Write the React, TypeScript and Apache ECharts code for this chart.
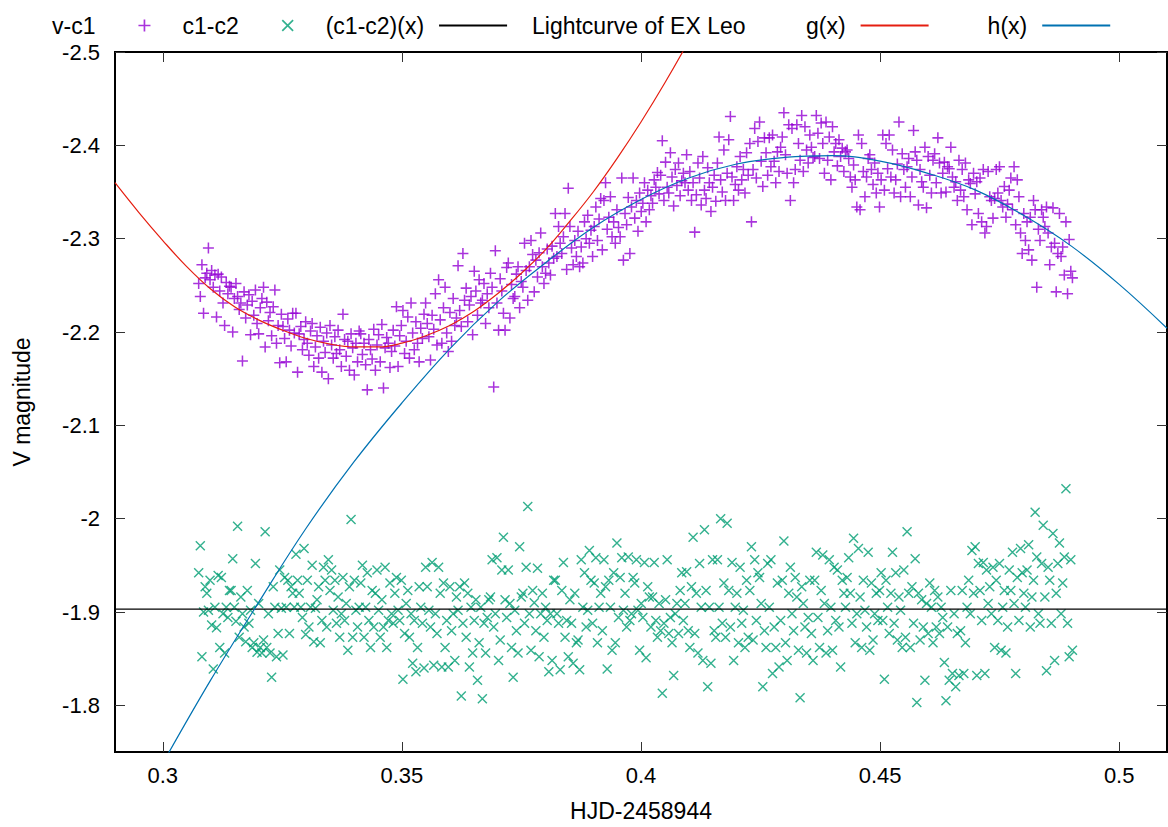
import React, { useEffect, useRef } from 'react';
import * as echarts from 'echarts';

// Observation cadence (HJD-2458944): first frame and spacing between frames
const T0 = 0.3075;
const CADENCE = 0.000339;

// v-c1 magnitudes (in time order)
const vMinusC1 = [
  -2.252, -2.238, -2.272, -2.220, -2.258, -2.263, -2.290, -2.256, -2.266, -2.248, -2.261, -2.216, -2.262, -2.244, -2.259, -2.231, -2.207, -2.253, -2.241, -2.249,
  -2.248, -2.200, -2.236, -2.252, -2.238, -2.224, -2.231, -2.169, -2.243, -2.215, -2.229, -2.240, -2.197, -2.233, -2.218, -2.245, -2.209, -2.198, -2.226, -2.236,
  -2.248, -2.184, -2.232, -2.212, -2.221, -2.196, -2.227, -2.245, -2.188, -2.207, -2.167, -2.219, -2.206, -2.193, -2.168, -2.214, -2.202, -2.185, -2.220, -2.199,
  -2.220, -2.157, -2.198, -2.206, -2.181, -2.192, -2.211, -2.188, -2.175, -2.201, -2.209, -2.163, -2.184, -2.196, -2.172, -2.205, -2.157, -2.190, -2.178, -2.199,
  -2.150, -2.207, -2.186, -2.172, -2.195, -2.177, -2.202, -2.181, -2.163, -2.219, -2.192, -2.174, -2.190, -2.159, -2.198, -2.183, -2.154, -2.188, -2.168, -2.201,
  -2.198, -2.176, -2.188, -2.165, -2.138, -2.192, -2.181, -2.171, -2.203, -2.159, -2.186, -2.197, -2.168, -2.208, -2.140, -2.183, -2.194, -2.188, -2.162, -2.179,
  -2.202, -2.185, -2.227, -2.163, -2.196, -2.207, -2.223, -2.177, -2.190, -2.216, -2.172, -2.231, -2.199, -2.181, -2.211, -2.188, -2.168, -2.204, -2.193, -2.219,
  -2.231, -2.209, -2.195, -2.170, -2.218, -2.203, -2.241, -2.186, -2.256, -2.213, -2.188, -2.226, -2.248, -2.199, -2.179, -2.221, -2.190, -2.236, -2.207, -2.215,
  -2.271, -2.223, -2.206, -2.284, -2.234, -2.247, -2.211, -2.229, -2.238, -2.197, -2.265, -2.244, -2.218, -2.256, -2.231, -2.234, -2.252, -2.209, -2.241, -2.226,
  -2.263, -2.248, -2.141, -2.287, -2.231, -2.202, -2.257, -2.244, -2.220, -2.202, -2.269, -2.274, -2.215, -2.251, -2.236, -2.238, -2.262, -2.270, -2.226, -2.254,
  -2.248, -2.295, -2.266, -2.234, -2.270, -2.298, -2.283, -2.243, -2.277, -2.259, -2.285, -2.306, -2.270, -2.252, -2.263, -2.289, -2.274, -2.261, -2.292, -2.279,
  -2.327, -2.281, -2.313, -2.295, -2.284, -2.302, -2.327, -2.267, -2.354, -2.313, -2.290, -2.272, -2.298, -2.281, -2.308, -2.270, -2.291, -2.274, -2.318, -2.300,
  -2.325, -2.295, -2.309, -2.281, -2.313, -2.334, -2.298, -2.321, -2.343, -2.288, -2.341, -2.360, -2.310, -2.323, -2.345, -2.302, -2.318, -2.295, -2.331, -2.312,
  -2.302, -2.365, -2.277, -2.327, -2.315, -2.344, -2.284, -2.334, -2.365, -2.322, -2.341, -2.308, -2.349, -2.329, -2.338, -2.360, -2.318, -2.352, -2.331, -2.346,
  -2.338, -2.363, -2.355, -2.371, -2.348, -2.368, -2.405, -2.341, -2.382, -2.355, -2.349, -2.392, -2.366, -2.335, -2.374, -2.357, -2.381, -2.346, -2.362, -2.370,
  -2.360, -2.390, -2.352, -2.372, -2.341, -2.360, -2.307, -2.347, -2.381, -2.365, -2.336, -2.388, -2.352, -2.343, -2.376, -2.360, -2.329, -2.355, -2.368, -2.340,
  -2.381, -2.409, -2.363, -2.350, -2.395, -2.341, -2.370, -2.406, -2.431, -2.366, -2.341, -2.358, -2.377, -2.352, -2.388, -2.363, -2.374, -2.349, -2.392, -2.368,
  -2.402, -2.318, -2.374, -2.418, -2.365, -2.404, -2.425, -2.383, -2.356, -2.408, -2.392, -2.368, -2.408, -2.377, -2.411, -2.383, -2.360, -2.393, -2.372, -2.398,
  -2.409, -2.435, -2.390, -2.370, -2.422, -2.341, -2.418, -2.360, -2.374, -2.422, -2.402, -2.384, -2.432, -2.372, -2.420, -2.395, -2.381, -2.411, -2.398, -2.387,
  -2.388, -2.432, -2.413, -2.386, -2.424, -2.402, -2.370, -2.425, -2.384, -2.409, -2.363, -2.420, -2.393, -2.402, -2.378, -2.406, -2.388, -2.397, -2.372, -2.393,
  -2.395, -2.386, -2.366, -2.355, -2.379, -2.363, -2.334, -2.411, -2.331, -2.402, -2.372, -2.345, -2.366, -2.386, -2.390, -2.374, -2.358, -2.381, -2.349, -2.370,
  -2.334, -2.363, -2.411, -2.352, -2.402, -2.375, -2.411, -2.366, -2.395, -2.349, -2.363, -2.380, -2.425, -2.345, -2.391, -2.374, -2.355, -2.377, -2.386, -2.345,
  -2.366, -2.416, -2.393, -2.384, -2.336, -2.374, -2.361, -2.355, -2.398, -2.333, -2.388, -2.368, -2.349, -2.384, -2.391, -2.360, -2.408, -2.381, -2.349, -2.370,
  -2.382, -2.350, -2.377, -2.375, -2.398, -2.366, -2.355, -2.361, -2.341, -2.384, -2.352, -2.374, -2.345, -2.381, -2.331, -2.363, -2.359, -2.315, -2.370, -2.348,
  -2.361, -2.327, -2.365, -2.318, -2.374, -2.306, -2.313, -2.372, -2.345, -2.341, -2.322, -2.343, -2.374, -2.349, -2.377, -2.341, -2.334, -2.356, -2.323, -2.337,
  -2.352, -2.365, -2.331, -2.377, -2.315, -2.363, -2.345, -2.306, -2.284, -2.327, -2.298, -2.318, -2.288, -2.323, -2.277, -2.341, -2.331, -2.248, -2.310, -2.298,
  -2.331, -2.323, -2.313, -2.334, -2.306, -2.272, -2.291, -2.333, -2.295, -2.243, -2.284, -2.327, -2.281, -2.291, -2.261, -2.318, -2.241, -2.299, -2.265, -2.258,
];

// c1-c2 magnitudes (same frames)
const c1MinusC2 = [
  -1.942, -1.971, -1.852, -1.900, -1.927, -1.920, -1.902, -1.934, -1.886, -1.839, -1.905, -1.883, -1.939, -1.862, -1.937, -1.898, -1.856, -1.905, -1.894, -1.923,
  -1.923, -1.957, -1.905, -1.890, -1.992, -1.873, -1.916, -1.898, -1.884, -1.868, -1.923, -1.888, -1.902, -1.862, -1.867, -1.952, -1.857, -1.909, -1.862, -1.856,
  -1.870, -1.986, -1.862, -1.898, -1.856, -1.830, -1.927, -1.905, -1.852, -1.877, -1.945, -1.904, -1.854, -1.937, -1.905, -1.934, -1.877, -1.927, -1.920, -1.905,
  -1.962, -1.934, -1.920, -1.905, -1.894, -1.968, -1.876, -1.934, -1.884, -1.905, -1.950, -1.868, -1.904, -1.913, -1.927, -1.867, -1.891, -1.948, -1.934, -1.884,
  -1.956, -1.923, -1.945, -1.902, -1.934, -1.888, -1.916, -1.873, -1.898, -1.937, -1.891, -1.909, -1.859, -1.927, -1.999, -1.873, -1.934, -1.902, -1.884, -1.905,
  -1.931, -1.950, -1.873, -1.905, -1.942, -1.891, -1.862, -1.923, -1.884, -1.920, -1.945, -1.902, -1.873, -1.913, -1.884, -1.948, -1.862, -1.891, -1.931, -1.898,
  -1.888, -1.920, -1.937, -1.902, -1.891, -1.934, -1.828, -1.877, -1.909, -1.923, -1.873, -1.898, -1.845, -1.891, -1.836, -1.862, -1.927, -1.905, -1.888, -1.840,
  -1.948, -1.927, -1.902, -1.884, -1.953, -1.843, -1.898, -1.877, -1.948, -1.920, -1.841, -1.931, -1.862, -1.891, -1.841, -1.927, -1.880, -1.898, -1.848, -1.916,
  -1.902, -1.927, -1.810, -1.888, -1.931, -1.873, -1.920, -1.841, -1.905, -1.856, -1.891, -1.913, -1.827, -1.867, -1.905, -1.807, -1.888, -1.856, -1.894, -1.913,
  -1.916, -1.956, -1.884, -1.898, -1.958, -1.848, -1.870, -1.945, -1.980, -1.913, -1.894, -1.945, -1.909, -1.862, -1.830, -1.902, -1.880, -1.856, -1.970, -1.916,
  -1.920, -1.888, -1.948, -2.013, -1.898, -1.859, -1.923, -1.910, -1.880, -1.947, -1.852, -1.898, -1.920, -1.873, -1.905, -1.891, -1.836, -1.898, -1.848, -1.934,
  -1.934, -1.898, -1.888, -1.838, -1.923, -1.953, -1.873, -1.891, -1.852, -1.913, -1.888, -1.845, -1.920, -1.867, -1.870, -1.838, -1.956, -1.905, -1.942, -1.884,
  -1.902, -1.966, -1.934, -1.888, -1.931, -1.958, -1.867, -1.905, -1.920, -1.880, -1.956, -1.927, -1.839, -1.934, -1.905, -1.859, -1.942, -1.867, -1.974, -1.894,
  -1.937, -1.958, -1.902, -1.920, -1.884, -1.959, -1.891, -1.898, -1.937, -1.931, -1.956, -1.902, -1.859, -1.909, -1.894, -1.953, -1.851, -1.927, -1.916, -1.884,
  -1.916, -1.953, -1.891, -1.873, -1.909, -1.880, -1.813, -1.888, -1.913, -1.956, -1.877, -1.894, -1.867, -1.832, -1.898, -1.909, -1.877, -1.923, -1.942, -1.891,
  -1.909, -1.943, -1.880, -1.862, -1.927, -1.980, -1.877, -1.920, -1.856, -1.952, -1.905, -1.848, -1.988, -1.923, -1.820, -1.905, -1.845, -1.956, -1.880, -1.873,
  -1.956, -1.905, -2.000, -1.888, -1.931, -1.873, -1.995, -1.923, -1.884, -1.953, -1.848, -1.905, -1.920, -1.867, -1.948, -1.888, -1.902, -1.862, -1.934, -1.873,
  -1.923, -1.970, -1.870, -1.956, -1.891, -1.942, -1.937, -1.909, -1.820, -1.880, -1.862, -1.952, -1.905, -1.956, -1.834, -1.884, -1.862, -1.931, -1.841, -1.891,
  -1.934, -1.976, -1.867, -1.848, -1.920, -1.948, -1.898, -1.880, -1.937, -1.916, -1.859, -1.808, -1.927, -1.909, -1.884, -1.856, -1.894, -1.934, -1.877, -1.848,
  -1.934, -1.964, -1.894, -1.862, -1.923, -1.961, -1.909, -1.856, -1.880, -1.956, -1.905, -1.859, -1.948, -1.891, -1.945, -1.884, -1.841, -1.934, -1.920, -1.905,
  -1.937, -1.958, -1.920, -1.888, -1.979, -1.867, -1.898, -1.968, -1.916, -1.862, -1.934, -1.902, -1.884, -1.964, -1.859, -1.931, -1.870, -1.898, -1.920, -1.891,
  -1.923, -1.942, -1.891, -1.828, -1.934, -1.905, -1.877, -1.920, -1.964, -1.888, -1.942, -1.870, -1.916, -1.902, -1.862, -1.945, -1.873, -1.986, -1.920, -1.862,
  -1.927, -1.888, -1.957, -1.803, -1.920, -1.870, -1.913, -1.884, -1.827, -1.909, -1.877, -1.931, -1.905, -1.867, -1.923, -1.884, -1.916, -1.877, -1.905, -1.894,
  -1.846, -1.805, -1.884, -1.827, -1.923, -1.834, -1.898, -1.820, -1.877, -1.832, -1.880, -1.923, -1.834, -1.867, -1.905, -1.934, -1.898, -1.966, -1.920, -1.970,
  -1.832, -1.952, -1.923, -1.891, -1.953, -1.834, -1.945, -1.909, -1.927, -1.898, -1.948, -1.862, -1.934, -1.891, -1.952, -1.859, -1.905, -1.923, -1.856, -1.884,
  -1.945, -1.923, -1.964, -1.909, -1.834, -1.937, -1.891, -1.968, -1.942, -1.920, -1.905, -1.945, -1.972, -1.884, -1.916, -1.934, -2.007, -1.959, -1.898, -1.888,
  -1.952, -1.993, -1.916, -1.837, -1.948, -1.934, -1.888, -1.984, -1.848, -1.920, -1.952, -1.974, -1.898, -1.931, -1.959, -2.032, -1.888, -1.852, -1.956, -1.859,
];

// (c1-c2)(x): constant fit level
const constX = [0.29, 0.51];
const constLevel = -1.903;

// g(x)
const gX = [0.29, 0.295, 0.3, 0.305, 0.31, 0.315, 0.32, 0.325, 0.33, 0.335, 0.34, 0.345, 0.35, 0.355, 0.36, 0.365, 0.37, 0.375, 0.38, 0.385, 0.39, 0.395, 0.4, 0.405, 0.41, 0.415];
const gY = [-2.360, -2.328, -2.298, -2.270, -2.246, -2.227, -2.213, -2.202, -2.193, -2.187, -2.184, -2.184, -2.188, -2.196, -2.207, -2.222, -2.241, -2.263, -2.288, -2.318, -2.350, -2.386, -2.425, -2.467, -2.512, -2.560];

// h(x)
const hX = [0.3, 0.31, 0.32, 0.33, 0.34, 0.35, 0.36, 0.37, 0.38, 0.39, 0.4, 0.41, 0.42, 0.43, 0.44, 0.45, 0.46, 0.47, 0.48, 0.49, 0.5, 0.51];
const hY = [-1.738, -1.827, -1.910, -1.990, -2.061, -2.124, -2.182, -2.232, -2.274, -2.312, -2.342, -2.365, -2.380, -2.387, -2.389, -2.383, -2.370, -2.352, -2.325, -2.292, -2.251, -2.204];

const xTicks = [0.3, 0.35, 0.4, 0.45, 0.5];
const yTicks = [-2.5, -2.4, -2.3, -2.2, -2.1, -2.0, -1.9, -1.8];

const COLORS = { vc1: '#9400d3', c1c2: '#009e73', fit: '#000000', g: '#e51e10', h: '#0072b2' };

const FONT = 'Liberation Sans, Arial, Helvetica, sans-serif';
const PLUS = 'path://M0,4.3L10,4.3L10,5.7L0,5.7Z M4.3,0L5.7,0L5.7,10L4.3,10Z';
const CROSS = 'path://M0,1L1,0L10,9L9,10Z M9,0L10,1L1,10L0,9Z';

const fmtX = (v: number) => {
  const k = v / 0.05;
  return Math.abs(k - Math.round(k)) < 1e-6 ? String(Number(v.toFixed(2))) : '';
};
const fmtY = (v: number) => {
  const k = v / 0.1;
  return Math.abs(k - Math.round(k)) < 1e-6 ? String(Number(v.toFixed(1))) : '';
};

const textBase = { fontFamily: FONT, fontSize: 22, color: '#000' };
const keyText = { fontFamily: FONT, fontSize: 23, color: '#000' };
const tickStyle = { show: true, inside: true, length: 10, lineStyle: { color: '#333', width: 1 } };
// hide the marker dot ECharts puts on line-series legend icons
const noDot = { opacity: 0, borderWidth: 0 };

function buildOption() {
  const purple = vMinusC1.map((y, i) => [T0 + i * CADENCE, y]);
  const green = c1MinusC2.map((y, i) => [T0 + i * CADENCE, y]);
  return {
    animation: false,
    backgroundColor: '#fff',
    title: {
      text: 'Lightcurve of EX Leo',
      left: 532,
      top: 14,
      padding: 0,
      textStyle: { ...keyText, fontWeight: 'normal' },
    },
    legend: [
      {
        data: ['v-c1', 'c1-c2', { name: '(c1-c2)(x)', itemStyle: noDot }],
        left: 52,
        top: 14,
        padding: 0,
        align: 'right',
        itemWidth: 68,
        itemHeight: 12,
        itemGap: 32,
        selectedMode: false,
        textStyle: { ...keyText, padding: [0, 10, 0, 0] },
      },
      {
        data: [
          { name: 'g(x)', itemStyle: noDot },
          { name: 'h(x)', itemStyle: noDot },
        ],
        left: 806,
        top: 14,
        padding: 0,
        align: 'right',
        itemWidth: 68,
        itemHeight: 12,
        itemGap: 58,
        selectedMode: false,
        textStyle: { ...keyText, padding: [0, 10, 0, 0] },
      },
    ],
    grid: { left: 115, right: 1, top: 52, bottom: 75, show: true, borderColor: '#000', borderWidth: 2, backgroundColor: 'transparent' },
    xAxis: [
      {
        type: 'value', min: 0.29, max: 0.51, position: 'bottom',
        axisLine: { show: false }, splitLine: { show: false },
        axisTick: { ...tickStyle, customValues: xTicks },
        axisLabel: { ...textBase, margin: 12, customValues: xTicks, formatter: fmtX },
        name: 'HJD-2458944', nameLocation: 'middle', nameGap: 47, nameTextStyle: keyText,
      },
      {
        type: 'value', min: 0.29, max: 0.51, position: 'top',
        axisLine: { show: false }, splitLine: { show: false },
        axisTick: { ...tickStyle, customValues: xTicks },
        axisLabel: { show: false },
      },
    ],
    yAxis: [
      {
        type: 'value', min: -2.5, max: -1.75, interval: 0.1, inverse: true, position: 'left',
        axisLine: { show: false }, splitLine: { show: false },
        axisTick: { ...tickStyle, customValues: yTicks },
        axisLabel: { ...textBase, margin: 15, customValues: yTicks, formatter: fmtY },
        name: 'V magnitude', nameLocation: 'middle', nameGap: 82, nameTextStyle: keyText,
      },
      {
        type: 'value', min: -2.5, max: -1.75, interval: 0.1, inverse: true, position: 'right',
        axisLine: { show: false }, splitLine: { show: false },
        axisTick: { ...tickStyle, customValues: yTicks },
        axisLabel: { show: false },
      },
    ],
    series: [
      {
        name: 'v-c1', type: 'scatter', data: purple, symbol: PLUS, symbolSize: 11,
        itemStyle: { color: COLORS.vc1 }, large: false, silent: true,
      },
      {
        name: 'c1-c2', type: 'scatter', data: green, symbol: CROSS, symbolSize: 10,
        itemStyle: { color: COLORS.c1c2 }, large: false, silent: true,
      },
      {
        name: '(c1-c2)(x)', type: 'line', data: constX.map((x) => [x, constLevel]),
        symbol: 'none', showSymbol: false, lineStyle: { color: COLORS.fit, width: 1.2 }, itemStyle: { color: COLORS.fit }, silent: true,
      },
      {
        name: 'g(x)', type: 'line', data: gX.map((x, i) => [x, gY[i]]), smooth: 0.4, clip: true,
        symbol: 'none', showSymbol: false, lineStyle: { color: COLORS.g, width: 1.2 }, itemStyle: { color: COLORS.g }, silent: true,
      },
      {
        name: 'h(x)', type: 'line', data: hX.map((x, i) => [x, hY[i]]), smooth: 0.4, clip: true,
        symbol: 'none', showSymbol: false, lineStyle: { color: COLORS.h, width: 1.2 }, itemStyle: { color: COLORS.h }, silent: true,
      },
    ],
  };
}

export default function App() {
  const ref = useRef<HTMLDivElement>(null);
  useEffect(() => {
    document.body.style.margin = '0';
    const chart = echarts.init(ref.current as HTMLDivElement, null, { renderer: 'svg' });
    chart.setOption(buildOption() as any);
    return () => chart.dispose();
  }, []);
  return <div ref={ref} style={{ width: 1168, height: 827 }} />;
}
